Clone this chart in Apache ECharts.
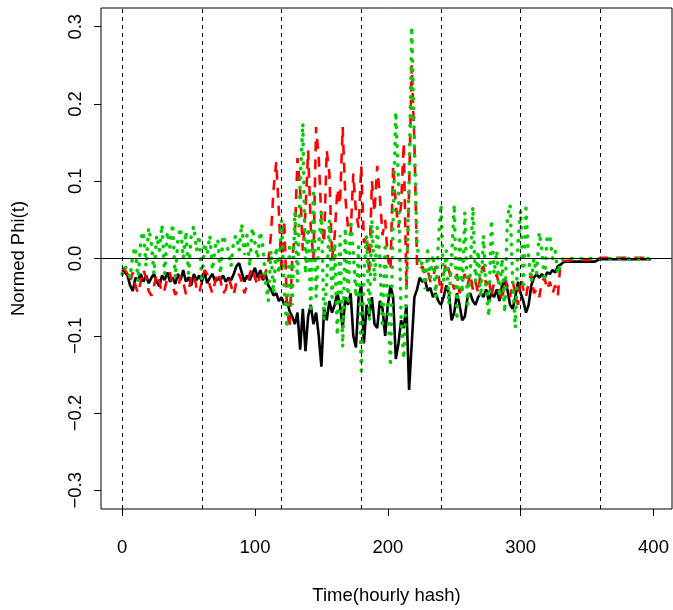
<!DOCTYPE html>
<html>
<head>
<meta charset="utf-8">
<script src="https://cdn.jsdelivr.net/npm/echarts@6/dist/echarts.min.js"></script>
<style>
html,body{margin:0;padding:0;background:#fff;}
#chart{width:673px;height:610px;}
</style>
</head>
<body>
<div id="chart"></div>
<script>
// hours step between samples
const STEP = 2;
// x tick labels
const xTicks = [0, 100, 200, 300, 400];
const yTicks = [-0.3, -0.2, -0.1, 0.0, 0.1, 0.2, 0.3];
// vertical reference lines (hours)
const vLines = [0, 60, 120, 180, 240, 300, 360];

// black solid series
const blackVals = [
 -0.015,-0.018,-0.022,-0.035,-0.042,-0.025,-0.028,-0.020,-0.030,-0.022,
 -0.032,-0.025,-0.020,-0.030,-0.036,-0.022,-0.028,-0.018,-0.030,-0.025,
 -0.033,-0.020,-0.028,-0.015,-0.030,-0.024,-0.035,-0.020,-0.028,-0.022,
 -0.030,-0.018,-0.032,-0.025,-0.020,-0.030,-0.026,-0.028,-0.022,-0.030,
 -0.025,-0.028,-0.020,-0.010,-0.006,-0.018,-0.030,-0.022,-0.028,-0.020,
 -0.012,-0.025,-0.015,-0.028,-0.020,-0.035,-0.040,-0.048,-0.045,-0.055,
 -0.050,-0.060,-0.055,-0.068,-0.075,-0.085,-0.070,-0.118,-0.065,-0.120,
 -0.075,-0.060,-0.085,-0.070,-0.100,-0.140,-0.065,-0.080,-0.055,-0.070,
 -0.060,-0.045,-0.060,-0.090,-0.050,-0.060,-0.045,-0.100,-0.115,-0.050,
 -0.035,-0.110,-0.060,-0.075,-0.050,-0.085,-0.090,-0.055,-0.065,-0.100,
 -0.060,-0.035,-0.050,-0.130,-0.110,-0.080,-0.090,-0.060,-0.170,-0.110,
 -0.050,-0.040,-0.025,-0.030,-0.028,-0.042,-0.038,-0.050,-0.045,-0.055,
 -0.060,-0.050,-0.035,-0.045,-0.080,-0.070,-0.045,-0.060,-0.080,-0.075,
 -0.050,-0.045,-0.055,-0.060,-0.050,-0.045,-0.050,-0.040,-0.055,-0.045,
 -0.050,-0.040,-0.055,-0.035,-0.030,-0.040,-0.060,-0.065,-0.050,-0.030,
 -0.045,-0.055,-0.070,-0.060,-0.035,-0.025,-0.020,-0.025,-0.020,-0.025,
 -0.018,-0.020,-0.015,-0.018,-0.010,-0.008,-0.005,-0.004,-0.004,-0.004,
 -0.004,-0.004,-0.004,-0.004,-0.004,-0.004,-0.004,-0.004,-0.004,-0.002,
 -0.001,-0.001,-0.001,-0.001,-0.001,-0.001,-0.001,-0.001,-0.001,-0.001,
 -0.001,-0.001,-0.001,-0.001,-0.001,-0.001,-0.001,-0.001,-0.001,-0.001
];

// red dashed series
const redVals = [
 -0.012,-0.015,-0.020,-0.030,-0.018,-0.035,-0.045,-0.030,-0.015,-0.025,
 -0.042,-0.048,-0.035,-0.020,-0.030,-0.045,-0.040,-0.025,-0.018,-0.035,
 -0.047,-0.040,-0.022,-0.030,-0.046,-0.042,-0.025,-0.020,-0.038,-0.045,
 -0.030,-0.015,-0.020,-0.035,-0.045,-0.030,-0.018,-0.028,-0.045,-0.040,
 -0.025,-0.035,-0.047,-0.030,-0.020,-0.030,-0.045,-0.035,-0.020,-0.012,
 -0.025,-0.035,-0.020,-0.030,-0.018,-0.005,0.030,0.090,0.125,0.060,
 -0.020,0.050,-0.060,-0.090,0.000,0.030,0.130,0.090,0.010,0.060,
 0.140,0.040,0.000,0.170,0.130,0.050,0.020,0.140,0.110,0.000,
 0.030,0.090,0.070,0.170,0.080,0.040,0.030,0.110,0.060,0.040,
 0.120,0.020,0.030,-0.020,0.100,0.060,0.120,0.080,0.030,0.050,
 0.000,-0.015,0.120,0.070,0.040,0.070,0.150,-0.040,0.090,0.250,
 0.150,-0.010,-0.015,-0.010,-0.020,-0.015,-0.030,-0.025,-0.010,-0.020,
 -0.045,-0.020,-0.005,-0.015,-0.030,-0.040,-0.020,-0.045,-0.030,-0.020,
 -0.035,-0.020,-0.040,-0.030,-0.045,-0.015,-0.010,-0.035,-0.025,-0.050,
 -0.030,-0.020,-0.040,-0.055,-0.025,-0.035,-0.050,-0.030,-0.045,-0.060,
 -0.025,-0.040,-0.050,-0.030,-0.020,-0.045,-0.040,-0.050,-0.030,-0.025,
 -0.040,-0.030,-0.045,-0.035,-0.048,-0.005,-0.003,-0.003,-0.003,-0.002,
 -0.002,-0.002,-0.002,-0.002,-0.002,-0.002,-0.002,-0.002,-0.002,-0.001,
 0.001,0.001,0.001,0.001,0.001,0.001,0.001,0.001,0.001,0.001,
 0.001,0.001,0.001,0.001,0.001,0.001,0.001,0.001,0.001,0.001
];

// green dotted series
const greenVals = [
 -0.020,-0.010,-0.015,-0.025,0.005,0.015,-0.030,0.025,0.035,-0.010,
 0.040,0.020,-0.020,0.030,0.010,0.044,-0.020,0.035,0.015,0.045,
 -0.025,0.025,0.040,0.000,0.035,-0.020,0.030,0.042,0.010,0.030,
 -0.030,0.020,0.005,0.030,-0.015,0.015,0.025,-0.020,0.030,0.020,
 0.010,-0.010,0.025,0.030,0.010,0.045,0.005,0.030,-0.010,0.040,
 0.020,0.000,0.035,0.015,-0.030,-0.055,0.010,-0.045,0.015,-0.020,
 0.050,-0.040,-0.090,0.020,-0.060,0.060,-0.030,0.100,0.175,-0.020,
 0.040,-0.070,0.090,-0.050,0.020,0.060,-0.080,-0.030,0.050,-0.050,
 0.020,-0.100,0.030,-0.115,0.040,-0.060,0.050,0.010,-0.050,0.015,
 -0.145,-0.020,0.030,-0.080,0.050,-0.030,0.040,0.000,-0.090,0.020,
 -0.060,-0.140,0.050,0.190,0.100,-0.080,-0.130,-0.040,0.100,0.300,
 0.150,0.020,-0.010,-0.005,-0.040,0.010,-0.025,0.005,-0.050,0.020,
 0.070,-0.030,0.010,-0.060,0.000,0.070,-0.080,0.030,-0.045,0.060,
 -0.060,-0.020,0.067,-0.030,0.010,-0.050,0.030,-0.040,-0.075,0.050,
 -0.020,0.010,-0.050,0.000,-0.070,0.053,0.070,-0.030,-0.090,0.020,
 0.062,-0.040,0.065,0.000,-0.030,0.000,-0.020,0.034,0.010,-0.030,
 0.030,0.028,0.000,0.010,-0.020,-0.005,0.000,0.000,0.000,0.000,
 0.000,0.000,0.000,0.000,0.000,0.000,0.000,0.000,0.000,0.000,
 0.000,0.000,0.000,0.000,0.000,0.000,0.000,0.000,0.000,0.000,
 0.000,0.000,0.000,0.000,0.000,0.000,0.000,0.000,0.000,0.000
];

const toPairs = vals => vals.map((v, i) => [i * STEP, v]);
const FONT = 'Liberation Sans, Arial, Helvetica, sans-serif';

const chart = echarts.init(document.getElementById('chart'), null, {renderer: 'canvas'});
chart.setOption({
  animation: false,
  backgroundColor: '#ffffff',
  grid: {left: 101, right: 1, top: 8, bottom: 100, show: true, borderColor: '#000', borderWidth: 1, backgroundColor: 'transparent'},
  xAxis: {
    type: 'value', min: -15.92, max: 413.92,
    splitLine: {show: false},
    axisLine: {show: false, onZero: false},
    axisTick: {show: true, length: 7, lineStyle: {color: '#000', width: 1}, customValues: xTicks},
    axisLabel: {customValues: xTicks, color: '#000', fontSize: 18.5, margin: 29, fontFamily: FONT},
    name: 'Time(hourly hash)', nameLocation: 'middle', nameGap: 77,
    nameTextStyle: {color: '#000', fontSize: 18.5, fontFamily: FONT}
  },
  yAxis: {
    type: 'value', min: -0.3242, max: 0.3242,
    splitLine: {show: false},
    axisLine: {show: false, onZero: false},
    axisTick: {show: true, length: 7, lineStyle: {color: '#000', width: 1}, customValues: yTicks},
    axisLabel: {customValues: yTicks, rotate: 90, color: '#000', fontSize: 18.5, margin: 16, fontFamily: FONT,
      formatter: v => (v < 0 ? '\u2212' : '') + Math.abs(v).toFixed(1)},
    name: 'Normed Phi(t)', nameLocation: 'middle', nameGap: 73, nameRotate: 90,
    nameTextStyle: {color: '#000', fontSize: 18.5, fontFamily: FONT}
  },
  series: [
    {type: 'line', data: toPairs(blackVals), showSymbol: false, symbol: 'none', z: 2,
     lineStyle: {color: '#000', width: 2.6}},
    {type: 'line', data: toPairs(redVals), showSymbol: false, symbol: 'none', z: 3,
     lineStyle: {color: '#ff0000', width: 2.6, type: [10, 8]}},
    {type: 'line', data: toPairs(greenVals), showSymbol: false, symbol: 'none', z: 4,
     lineStyle: {color: '#00cd00', width: 3.6, type: [0.5, 9], cap: 'round'}},
    {type: 'line', data: [], z: 5,
     markLine: {silent: true, symbol: ['none', 'none'], label: {show: false}, animation: false,
       data: vLines.map(v => ({xAxis: v, lineStyle: {type: [4, 4], width: 1, color: '#000'}}))
         .concat([{yAxis: 0, lineStyle: {type: 'solid', width: 1, color: '#000'}}])}}
  ]
});
</script>
</body>
</html>
